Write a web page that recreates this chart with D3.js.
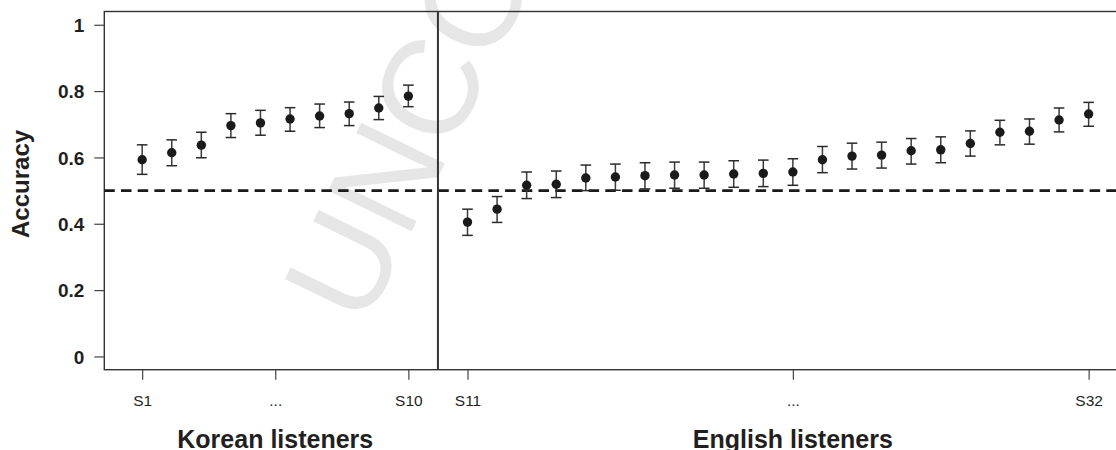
<!DOCTYPE html>
<html>
<head>
<meta charset="utf-8">
<script src="https://cdn.jsdelivr.net/npm/d3@7"></script>
<style>
  html, body { margin: 0; padding: 0; background: #fff; }
  svg { display: block; }
  text { font-family: "Liberation Sans", Arial, Helvetica, sans-serif; fill: #231f20; }
</style>
</head>
<body>
<svg id="chart" width="1116" height="450"></svg>
<script>
// ---- data ----
const koreanSubjects = ["S1","S2","S3","S4","S5","S6","S7","S8","S9","S10"];
const koreanMeans = [0.593,0.614,0.637,0.696,0.704,0.716,0.725,0.732,0.749,0.785];
const koreanLower = [0.549,0.575,0.599,0.660,0.667,0.679,0.690,0.696,0.714,0.753];
const koreanUpper = [0.638,0.653,0.676,0.732,0.742,0.750,0.761,0.767,0.784,0.818];

const englishSubjects = ["S11","S12","S13","S14","S15","S16","S17","S18","S19","S20","S21",
  "S22","S23","S24","S25","S26","S27","S28","S29","S30","S31","S32"];
const englishMeans = [0.405,0.444,0.516,0.519,0.538,0.541,0.545,0.547,0.547,0.550,0.552,
  0.556,0.593,0.604,0.607,0.620,0.623,0.642,0.676,0.679,0.713,0.731];
const englishLower = [0.365,0.404,0.476,0.479,0.500,0.501,0.505,0.507,0.507,0.510,0.512,
  0.516,0.554,0.565,0.568,0.580,0.584,0.604,0.638,0.640,0.677,0.694];
const englishUpper = [0.444,0.482,0.556,0.559,0.577,0.580,0.584,0.586,0.586,0.590,0.592,
  0.596,0.633,0.643,0.646,0.657,0.662,0.680,0.712,0.716,0.749,0.766];

const xTickPositions = [1, 5.5, 10, 12, 23, 33];
const xTickLabels = ["S1", "...", "S10", "S11", "...", "S32"];
const yTickValues = [0, 0.2, 0.4, 0.6, 0.8, 1];
const yTickLabels = ["0", "0.2", "0.4", "0.6", "0.8", "1"];
const groupLabels = ["Korean listeners", "English listeners"];
const groupLabelPositions = [5.5, 23];
const chanceLevel = 0.5;
const dividerPosition = 11;
const yTitle = "Accuracy";
const watermarkText = "UNCORRECTED PROOF";

(function () {
  // ---- build rows ----
  const rows = [];
  koreanMeans.forEach((m, i) => rows.push({ name: koreanSubjects[i], pos: i + 1, mean: m, lo: koreanLower[i], hi: koreanUpper[i] }));
  englishMeans.forEach((m, i) => rows.push({ name: englishSubjects[i], pos: koreanMeans.length + 2 + i, mean: m, lo: englishLower[i], hi: englishUpper[i] }));

  // ---- layout ----
  const svg = d3.select("#chart");
  const mLeft = 104.3, mTop = 11.5, plotW = 1022.2, plotH = 358.2;
  const x = d3.scaleLinear().domain([-0.28, 34.28]).range([mLeft, mLeft + plotW]);
  const y = d3.scaleLinear().domain([-0.04, 1.04]).range([mTop + plotH, mTop]);
  const ink = "#231f20";

  // watermark (behind everything)
  svg.append("text")
    .attr("transform", "translate(364,329) rotate(-64)")
    .style("font-size", "135px")
    .style("fill", "#e6e6e6")
    .text(watermarkText);

  // plot box
  svg.append("rect")
    .attr("x", mLeft).attr("y", mTop).attr("width", plotW).attr("height", plotH)
    .attr("fill", "none").attr("stroke", "#333").attr("stroke-width", 1.4);

  // y axis
  const yAxis = d3.axisLeft(y).tickValues(yTickValues)
    .tickFormat((d, i) => yTickLabels[i]).tickSize(10).tickPadding(10);
  const gy = svg.append("g").attr("transform", `translate(${mLeft},0)`).call(yAxis);
  gy.select(".domain").remove();
  gy.selectAll(".tick line").attr("stroke", "#444").attr("stroke-width", 1.2);
  gy.selectAll(".tick text").style("font-size", "19px").style("font-weight", "bold")
    .style("font-family", "'Liberation Sans', Arial, sans-serif")
    .attr("fill", ink).attr("dy", "0.35em");

  // x axis
  const xAxis = d3.axisBottom(x).tickValues(xTickPositions)
    .tickFormat((d, i) => xTickLabels[i]).tickSize(10).tickPadding(0);
  const gx = svg.append("g").attr("transform", `translate(0,${mTop + plotH})`).call(xAxis);
  gx.select(".domain").remove();
  gx.selectAll(".tick line").attr("stroke", "#444").attr("stroke-width", 1.2);
  gx.selectAll(".tick text").style("font-size", "15.5px")
    .style("font-family", "'Liberation Sans', Arial, sans-serif")
    .attr("fill", ink).attr("y", 36.5).attr("dy", null);

  // chance line
  svg.append("line")
    .attr("x1", mLeft).attr("x2", mLeft + plotW)
    .attr("y1", y(chanceLevel)).attr("y2", y(chanceLevel))
    .attr("stroke", "#1a1a1a").attr("stroke-width", 2.6)
    .attr("stroke-dasharray", "10.5,6.2");

  // divider
  svg.append("line")
    .attr("x1", x(dividerPosition)).attr("x2", x(dividerPosition))
    .attr("y1", mTop).attr("y2", mTop + plotH)
    .attr("stroke", "#333").attr("stroke-width", 2);

  // error bars
  const eb = svg.append("g").selectAll("g").data(rows).join("g");
  eb.append("line")
    .attr("x1", d => x(d.pos)).attr("x2", d => x(d.pos))
    .attr("y1", d => y(d.lo)).attr("y2", d => y(d.hi))
    .attr("stroke", "#3a3a3a").attr("stroke-width", 1.5);
  eb.append("line")
    .attr("x1", d => x(d.pos) - 5.3).attr("x2", d => x(d.pos) + 5.3)
    .attr("y1", d => y(d.hi)).attr("y2", d => y(d.hi))
    .attr("stroke", "#2a2a2a").attr("stroke-width", 1.5);
  eb.append("line")
    .attr("x1", d => x(d.pos) - 5.3).attr("x2", d => x(d.pos) + 5.3)
    .attr("y1", d => y(d.lo)).attr("y2", d => y(d.lo))
    .attr("stroke", "#2a2a2a").attr("stroke-width", 1.5);

  // points
  svg.append("g").selectAll("circle").data(rows).join("circle")
    .attr("cx", d => x(d.pos)).attr("cy", d => y(d.mean)).attr("r", 4.7)
    .attr("fill", "#1a1a1a");

  // y title
  svg.append("text")
    .attr("transform", `translate(29,${y(0.52)}) rotate(-90)`)
    .attr("text-anchor", "middle")
    .style("font-size", "24px").style("font-weight", "bold").attr("fill", ink)
    .text(yTitle);

  // group labels
  svg.append("g").selectAll("text").data(groupLabels).join("text")
    .attr("x", (d, i) => x(groupLabelPositions[i])).attr("y", 448)
    .attr("text-anchor", "middle")
    .style("font-size", "25px").style("font-weight", "bold").attr("fill", ink)
    .text(d => d);
})();
</script>
</body>
</html>
